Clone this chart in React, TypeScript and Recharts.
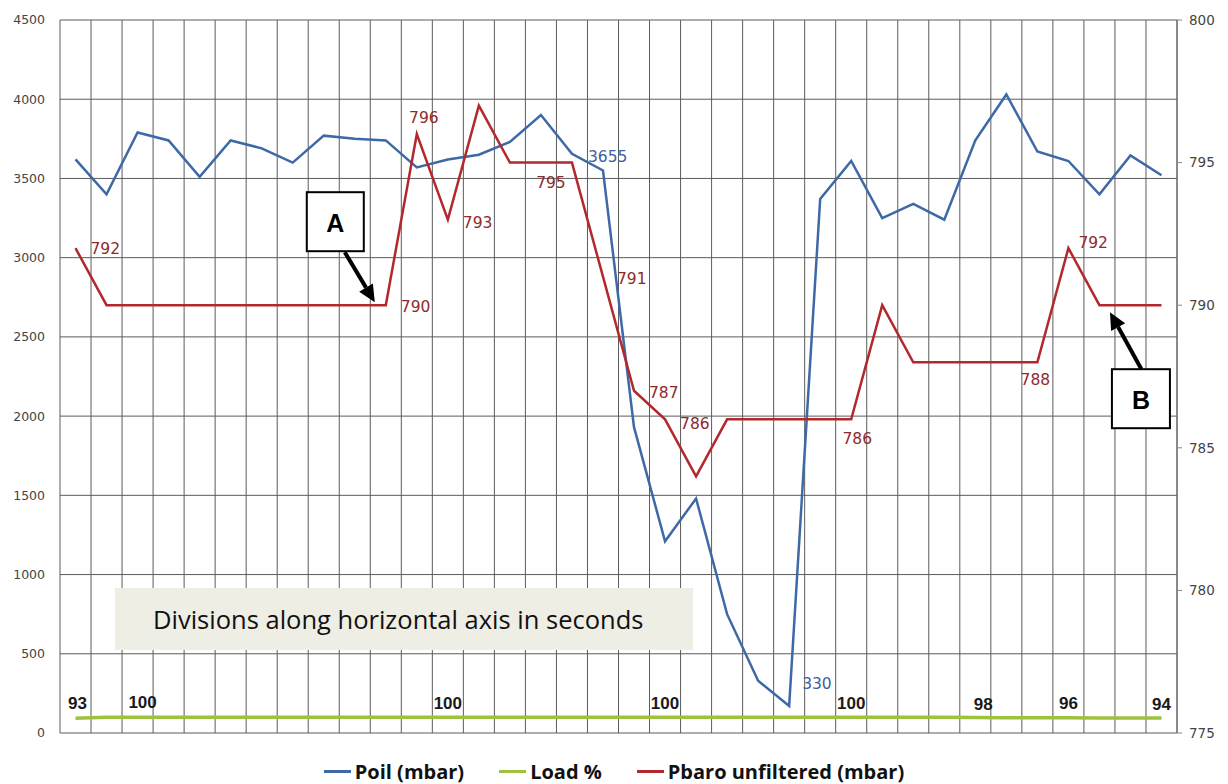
import React from 'react';
import {
  LineChart,
  Line,
  XAxis,
  YAxis,
  CartesianGrid,
  Legend,
  LabelList,
  ReferenceDot,
} from 'recharts';

// ---------- data ----------
const seconds = [
  1, 2, 3, 4, 5, 6, 7, 8, 9, 10, 11, 12, 13, 14, 15, 16, 17, 18,
  19, 20, 21, 22, 23, 24, 25, 26, 27, 28, 29, 30, 31, 32, 33, 34, 35, 36,
];

const poil = [
  3620, 3400, 3790, 3740, 3510, 3740, 3690, 3600, 3770, 3750, 3740, 3570,
  3620, 3650, 3730, 3900, 3655, 3550, 1930, 1210, 1480, 750, 330, 170,
  3370, 3610, 3250, 3340, 3240, 3740, 4030, 3670, 3610, 3400, 3645, 3520,
];

const load = [
  93, 100, 100, 100, 100, 100, 100, 100, 100, 100, 100, 100,
  100, 100, 100, 100, 100, 100, 100, 100, 100, 100, 100, 100,
  100, 100, 100, 100, 100, 98, 97, 96, 96, 95, 95, 94,
];

const pbaro = [
  792, 790, 790, 790, 790, 790, 790, 790, 790, 790, 790, 796,
  793, 797, 795, 795, 795, 791, 787, 786, 784, 786, 786, 786,
  786, 786, 790, 788, 788, 788, 788, 788, 792, 790, 790, 790,
];

const leftTicks = [0, 500, 1000, 1500, 2000, 2500, 3000, 3500, 4000, 4500];
const rightTicks = [775, 780, 785, 790, 795, 800];

const poilLabeled = [16, 22];
const pbaroLabeled = [0, 10, 11, 12, 15, 17, 18, 19, 25, 31, 32];
const loadLabeled = [0, 2, 12, 19, 25, 29, 32, 35];

const seriesNames = ['Poil (mbar)', 'Load %', 'Pbaro unfiltered (mbar)'];
const noteText = 'Divisions along horizontal axis in seconds';
const markerA = { index: 10, text: 'A' };
const markerB = { index: 33, text: 'B' };

const data = seconds.map((s, i) => ({
  t: s,
  poil: poil[i],
  load: load[i],
  pbaro: pbaro[i],
}));

// ---------- styling ----------
const BLUE = '#3d69a6';
const GREEN = '#9fc23e';
const RED = '#b3282d';
const GRID = '#5c5c5c';

type Place = { dx: number; dy: number; anchor: 'start' | 'middle' | 'end' };

const pbaroPlace: Record<number, Place> = {
  0: { dx: 15, dy: 1, anchor: 'start' },
  10: { dx: 15, dy: 2, anchor: 'start' },
  11: { dx: 7, dy: -16, anchor: 'middle' },
  12: { dx: 15, dy: 3, anchor: 'start' },
  15: { dx: 10, dy: 20, anchor: 'middle' },
  17: { dx: 14, dy: 2, anchor: 'start' },
  18: { dx: 15, dy: 2, anchor: 'start' },
  19: { dx: 15, dy: 5, anchor: 'start' },
  25: { dx: 6, dy: 20, anchor: 'middle' },
  31: { dx: -2, dy: 18, anchor: 'middle' },
  32: { dx: 10, dy: -5, anchor: 'start' },
};

const poilPlace: Record<number, Place> = {
  16: { dx: 16, dy: 3, anchor: 'start' },
  22: { dx: 44, dy: 3, anchor: 'start' },
};

const loadPlace: Record<number, Place> = {
  0: { dx: 2, dy: -15, anchor: 'middle' },
  2: { dx: 5, dy: -15, anchor: 'middle' },
  29: { dx: 8, dy: -13, anchor: 'middle' },
};

function makeLabel(
  indices: number[],
  place: Record<number, Place>,
  fallback: Place,
  color: string,
  fontSize: number,
  fontWeight: number | string,
  fontFamily: string,
) {
  return (props: any) => {
    const { x, y, value, index } = props;
    if (!indices.includes(index)) return null;
    const p = place[index] || fallback;
    return (
      <text
        x={x + p.dx}
        y={y + p.dy}
        textAnchor={p.anchor}
        dominantBaseline="central"
        fill={color}
        fontSize={fontSize}
        fontWeight={fontWeight}
        fontFamily={fontFamily}
      >
        {value}
      </text>
    );
  };
}

function Arrow({ x1, y1, x2, y2 }: { x1: number; y1: number; x2: number; y2: number }) {
  const dx = x2 - x1;
  const dy = y2 - y1;
  const len = Math.sqrt(dx * dx + dy * dy);
  const ux = dx / len;
  const uy = dy / len;
  const head = 17;
  const half = 8;
  const bx = x2 - ux * head;
  const by = y2 - uy * head;
  const px = -uy;
  const py = ux;
  return (
    <g>
      <line x1={x1} y1={y1} x2={bx} y2={by} stroke="#000" strokeWidth={4} />
      <polygon
        points={`${x2},${y2} ${bx + px * half},${by + py * half} ${bx - px * half},${by - py * half}`}
        fill="#000"
      />
    </g>
  );
}

function MarkerBox(props: any) {
  const { cx, cy, text, box, from, tip } = props;
  if (cx == null || cy == null) return null;
  const [bx, by, bw, bh] = box;
  return (
    <g>
      <Arrow x1={cx + from[0]} y1={cy + from[1]} x2={cx + tip[0]} y2={cy + tip[1]} />
      <rect x={cx + bx} y={cy + by} width={bw} height={bh} fill="#fff" stroke="#000" strokeWidth={2} />
      <text
        x={cx + bx + bw / 2}
        y={cy + by + bh / 2 + 1}
        textAnchor="middle"
        dominantBaseline="central"
        fontFamily="Liberation Sans, Arial, sans-serif"
        fontWeight={700}
        fontSize={25}
        fill="#000"
      >
        {text}
      </text>
    </g>
  );
}

function LegendContent() {
  const items = [
    { name: seriesNames[0], color: BLUE },
    { name: seriesNames[1], color: GREEN },
    { name: seriesNames[2], color: RED },
  ];
  return (
    <div
      style={{
        display: 'flex',
        justifyContent: 'center',
        alignItems: 'center',
        height: 28,
        gap: 35,
        fontFamily: '"Open Sans", sans-serif',
        fontWeight: 700,
        fontSize: 20,
        color: '#111',
      }}
    >
      {items.map((it) => (
        <div key={it.name} style={{ display: 'flex', alignItems: 'center' }}>
          <div style={{ width: 27, height: 3, background: it.color, marginRight: 4 }} />
          <span>{it.name}</span>
        </div>
      ))}
    </div>
  );
}

export default function App() {
  const n = seconds.length;
  return (
    <div style={{ position: 'absolute', left: 0, top: 0, width: 1228, height: 784, background: '#fff' }}>
      <LineChart
        width={1228}
        height={784}
        data={data}
        margin={{ top: 20, right: 0, bottom: 23, left: 0 }}
      >
        <CartesianGrid
          yAxisId="left"
          stroke={GRID}
          strokeWidth={1}
          verticalCoordinatesGenerator={({ offset }: any) =>
            Array.from({ length: n + 1 }, (_, i) => offset.left + (i * offset.width) / n)
          }
        />
        <XAxis dataKey="t" type="category" scale="band" hide />
        <YAxis
          yAxisId="left"
          domain={[0, 4500]}
          ticks={leftTicks}
          width={60}
          axisLine={false}
          tickLine={false}
          tickSize={0}
          tickMargin={15}
          tick={{ fill: '#444', fontSize: 12.5, fontFamily: 'DejaVu Sans, sans-serif' }}
          interval={0}
        />
        <YAxis
          yAxisId="right"
          orientation="right"
          domain={[775, 800]}
          ticks={rightTicks}
          width={51}
          axisLine={{ stroke: '#666' }}
          tickLine={{ stroke: '#888' }}
          tickSize={5}
          tickMargin={7}
          tick={{ fill: '#444', fontSize: 13.5, fontFamily: 'DejaVu Sans, sans-serif' }}
          interval={0}
        />
        <Line
          yAxisId="left"
          dataKey="load"
          name={seriesNames[1]}
          stroke={GREEN}
          strokeWidth={3.5}
          dot={false}
          isAnimationActive={false}
        >
          <LabelList
            dataKey="load"
            content={makeLabel(loadLabeled, loadPlace, { dx: 0, dy: -14, anchor: 'middle' }, '#1a1a1a', 17, 700, '"Liberation Sans", Arial, sans-serif')}
          />
        </Line>
        <Line
          yAxisId="left"
          dataKey="poil"
          name={seriesNames[0]}
          stroke={BLUE}
          strokeWidth={2.5}
          dot={false}
          isAnimationActive={false}
        >
          <LabelList
            dataKey="poil"
            content={makeLabel(poilLabeled, poilPlace, { dx: 14, dy: 0, anchor: 'start' }, '#4060a0', 15.5, 400, '"DejaVu Sans", sans-serif')}
          />
        </Line>
        <Line
          yAxisId="right"
          dataKey="pbaro"
          name={seriesNames[2]}
          stroke={RED}
          strokeWidth={2.5}
          dot={false}
          isAnimationActive={false}
        >
          <LabelList
            dataKey="pbaro"
            content={makeLabel(pbaroLabeled, pbaroPlace, { dx: 14, dy: 0, anchor: 'start' }, '#8e2a2a', 15.5, 400, '"DejaVu Sans", sans-serif')}
          />
        </Line>
        <ReferenceDot
          yAxisId="right"
          x={seconds[markerA.index]}
          y={pbaro[markerA.index]}
          r={0}
          shape={(p: any) => (
            <MarkerBox {...p} text={markerA.text} box={[-79, -113, 57, 59]} from={[-41, -53]} tip={[-11, -3]} />
          )}
        />
        <ReferenceDot
          yAxisId="right"
          x={seconds[markerB.index]}
          y={pbaro[markerB.index]}
          r={0}
          shape={(p: any) => (
            <MarkerBox {...p} text={markerB.text} box={[12.5, 64, 58, 59]} from={[42, 64]} tip={[10.5, 7]} />
          )}
        />
        <Legend
          verticalAlign="bottom"
          content={() => <LegendContent />}
          wrapperStyle={{ position: 'absolute', top: 757, left: 0, width: 1228, height: 28 }}
        />
      </LineChart>
      <div
        style={{
          position: 'absolute',
          left: 115,
          top: 588,
          width: 578,
          height: 62,
          background: '#efeee5',
          display: 'flex',
          alignItems: 'center',
          paddingLeft: 38,
          boxSizing: 'border-box',
          fontFamily: '"Open Sans", sans-serif',
          fontSize: 25.5,
          color: '#111',
          whiteSpace: 'nowrap',
        }}
      >
        {noteText}
      </div>
    </div>
  );
}
